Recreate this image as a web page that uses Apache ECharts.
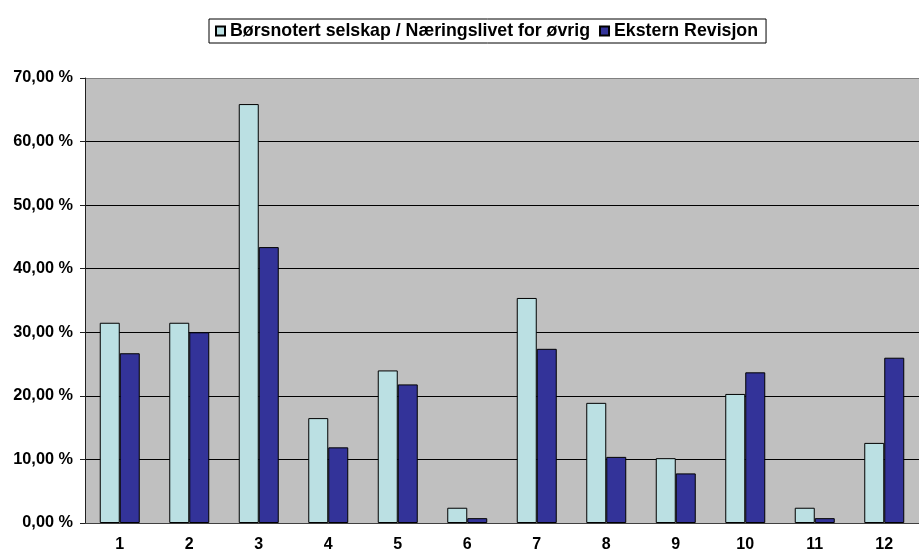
<!DOCTYPE html>
<html>
<head>
<meta charset="utf-8">
<script src="https://cdn.jsdelivr.net/npm/echarts@6/dist/echarts.min.js"></script>
<style>
html,body{margin:0;padding:0;background:#fff;}
#chart{width:919px;height:553px;}
</style>
</head>
<body>
<div id="chart"></div>
<script>
const categories = ['1','2','3','4','5','6','7','8','9','10','11','12'];
const seriesNames = ['Børsnotert selskap / Næringslivet for øvrig', 'Ekstern Revisjon'];
const borsnotert = [31.5, 31.5, 65.9, 16.5, 24.0, 2.4, 35.4, 18.9, 10.2, 20.3, 2.4, 12.6];
const eksternRevisjon = [26.7, 30.0, 43.4, 11.9, 21.8, 0.76, 27.4, 10.4, 7.8, 23.7, 0.76, 26.0];

const FONT = '"Liberation Sans", Arial, sans-serif';
const chart = echarts.init(document.getElementById('chart'), null, {renderer: 'canvas'});
chart.setOption({
  animation: false,
  backgroundColor: '#ffffff',
  textStyle: {fontFamily: FONT},
  legend: {
    left: 209, top: 19,
    padding: [3, 8, 3, 6],
    itemGap: 9,
    itemWidth: 9, itemHeight: 9,
    borderColor: '#000', borderWidth: 1,
    backgroundColor: '#fff',
    icon: 'rect',
    textStyle: {fontFamily: FONT, fontWeight: 'bold', fontSize: 17.75, color: '#000', lineHeight: 17},
    data: seriesNames
  },
  grid: {
    left: 85, top: 78, right: -6, bottom: 30,
    show: true, backgroundColor: '#C0C0C0', borderWidth: 0
  },
  xAxis: {
    type: 'category',
    data: categories,
    axisLine: {lineStyle: {color: '#404040', width: 1}},
    axisTick: {inside: true, length: 5, lineStyle: {color: '#404040'}},
    axisLabel: {fontFamily: FONT, fontWeight: 'bold', fontSize: 16, color: '#000', margin: 14},
    splitLine: {show: false}
  },
  yAxis: {
    type: 'value',
    min: 0, max: 70, interval: 10,
    axisLine: {show: true, lineStyle: {color: '#202020', width: 1}},
    axisTick: {show: true, inside: false, length: 5, lineStyle: {color: '#202020'}},
    axisLabel: {
      fontFamily: FONT, fontWeight: 'bold', fontSize: 16.3, color: '#000', margin: 12,
      formatter: v => v.toFixed(2).replace('.', ',') + ' %'
    },
    splitLine: {show: true, lineStyle: {color: ['#000','#000','#000','#000','#000','#000','#000','#808080'], width: 1}}
  },
  series: [
    {
      name: seriesNames[0], type: 'bar', data: borsnotert,
      barWidth: 20, barGap: '0%',
      itemStyle: {color: '#BBE0E3', borderColor: '#000', borderWidth: 1}
    },
    {
      name: seriesNames[1], type: 'bar', data: eksternRevisjon,
      barWidth: 20, barGap: '0%',
      itemStyle: {color: '#333399', borderColor: '#000', borderWidth: 1}
    }
  ]
});
</script>
</body>
</html>
